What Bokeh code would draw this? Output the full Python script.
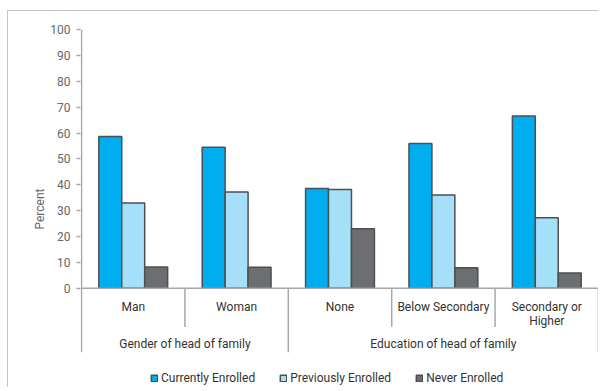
from bokeh.plotting import figure
from bokeh.models import FactorRange, Range1d, FixedTicker, Legend, LegendItem, ColumnDataSource
from bokeh.transform import dodge
from bokeh.core.properties import value
from bokeh.embed import file_html
from bokeh.resources import INLINE

groups = ["Gender of head of family"] * 2 + ["Education of head of family"] * 3
group_names = ["Gender of head of family", "Education of head of family"]
categories = ["Man", "Woman", "None", "Below Secondary", "Secondary or Higher"]
tick_labels = ["Man", "Woman", "None", "Below Secondary", "Secondary or\nHigher"]
series = ["Currently Enrolled", "Previously Enrolled", "Never Enrolled"]
currently = [58.7, 54.5, 38.6, 56.0, 66.6]
previously = [33.0, 37.2, 38.2, 36.1, 27.3]
never = [8.2, 8.1, 23.0, 8.0, 5.9]
y_ticks = [0, 10, 20, 30, 40, 50, 60, 70, 80, 90, 100]

FONT = "Roboto"
colors = ["#00aeef", "#a6e0f8", "#6d6e71"]
OUTLINE = "#4d4f52"
GRID = "#a8a8a8"

factors = list(zip(groups, categories))
src = ColumnDataSource(dict(x=factors, currently=currently, previously=previously,
                            never=never, label=tick_labels))

x_range = FactorRange(*factors, factor_padding=0, group_padding=0,
                      range_padding=0.01, range_padding_units="absolute")
y_range = Range1d(-38.7, 100)

p = figure(x_range=x_range, y_range=y_range, width=591, height=377,
           output_backend="svg", toolbar_location=None,
           min_border_left=72, min_border_right=0, min_border_top=18,
           min_border_bottom=0)
p.styles = {"border-left": "1.5px solid #c4c4c4", "border-top": "1.5px solid #c4c4c4",
            "margin-left": "7px", "margin-top": "10px"}
p.outline_line_color = None
p.grid.visible = False
p.xaxis.visible = False

yaxis = p.yaxis[0]
yaxis.ticker = FixedTicker(ticks=y_ticks)
yaxis.minor_tick_line_color = None
yaxis.axis_line_color = None
yaxis.major_tick_line_color = GRID
yaxis.major_tick_line_width = 1.5
yaxis.major_tick_in = 0
yaxis.major_tick_out = 4
yaxis.major_label_text_font = FONT
yaxis.major_label_text_font_size = "12px"
yaxis.major_label_text_color = "#666666"
yaxis.major_label_standoff = 6
yaxis.axis_label = "Percent"
yaxis.axis_label_text_font = FONT
yaxis.axis_label_text_font_size = "12px"
yaxis.axis_label_text_font_style = "normal"
yaxis.axis_label_text_color = "#666666"
yaxis.axis_label_standoff = 0

w = 0.222
r1 = p.vbar(x=dodge("x", -w, range=x_range), top="currently", width=w, source=src,
            fill_color=colors[0], line_color=OUTLINE, line_width=1.5)
r2 = p.vbar(x=dodge("x", 0, range=x_range), top="previously", width=w, source=src,
            fill_color=colors[1], line_color=OUTLINE, line_width=1.5)
r3 = p.vbar(x=dodge("x", w, range=x_range), top="never", width=w, source=src,
            fill_color=colors[2], line_color=OUTLINE, line_width=1.5)

# axis line and category table lines (synthetic coordinates: one unit per category)
n = len(categories)
y_top = y_ticks[-1]
y_bottom = -24.7
p.segment(x0=[0], y0=[y_top], x1=[0], y1=[y_bottom], line_color=GRID, line_width=1.5)
p.segment(x0=[0], y0=[0], x1=[n], y1=[0], line_color=GRID, line_width=1.5)
inner = [i for i in range(1, n) if groups[i] == groups[i - 1]]
outer = [i for i in range(1, n + 1) if i == n or groups[i] != groups[i - 1]]
p.segment(x0=inner, y0=[0] * len(inner), x1=inner, y1=[-14.9] * len(inner),
          line_color=GRID, line_width=1.5)
p.segment(x0=outer, y0=[0] * len(outer), x1=outer, y1=[y_bottom] * len(outer),
          line_color=GRID, line_width=1.5)

p.text(x="x", y=-4.4, text="label", source=src, text_font=value(FONT),
       text_font_size="12px", text_color="#333333", text_align="center",
       text_baseline="top", text_line_height=1.0)
group_x = []
for g in group_names:
    idx = [i for i, gg in enumerate(groups) if gg == g]
    group_x.append((min(idx) + max(idx) + 1) / 2)
p.text(x=group_x, y=[-21.6] * len(group_names), text=group_names,
       text_font=value(FONT), text_font_size="12px", text_color="#333333",
       text_align="center", text_baseline="middle")

legend = Legend(items=[LegendItem(label=series[0], renderers=[r1]),
                       LegendItem(label=series[1], renderers=[r2]),
                       LegendItem(label=series[2], renderers=[r3])],
                orientation="horizontal", location=(70, 3),
                glyph_width=8, glyph_height=8, label_standoff=3, spacing=24,
                padding=0, margin=0, border_line_color=None,
                background_fill_alpha=0,
                label_text_font=FONT, label_text_font_size="12px",
                label_text_color="#333333", label_height=12)
p.add_layout(legend)

open("out.html", "w").write(file_html(p, INLINE))
